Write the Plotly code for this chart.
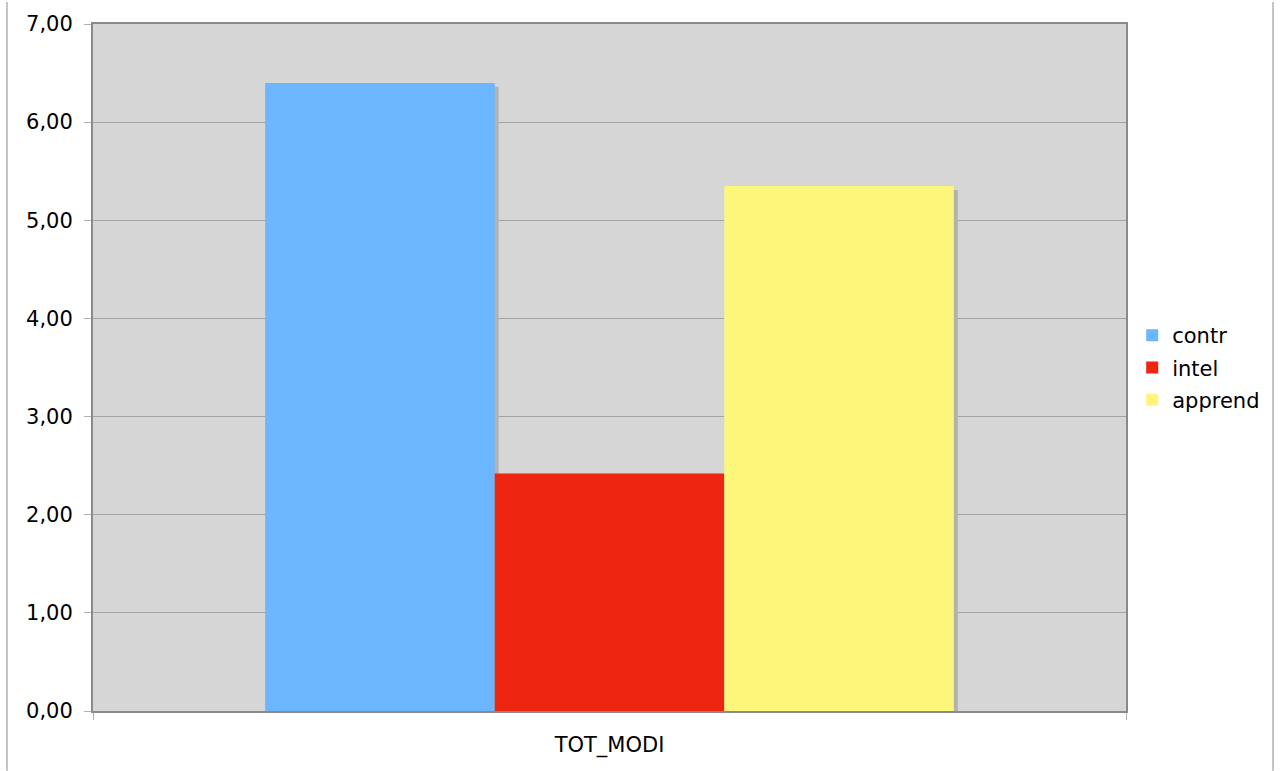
import plotly.graph_objects as go

# Data
category = ["TOT_MODI"]
series_names = ["contr", "intel", "apprend"]
series_values = [6.40, 2.42, 5.35]
series_colors = ["#6bb6ff", "#ee2511", "#fcf77b"]

# Layout geometry (pixels)
W, H = 1284, 771
M_L, M_R, M_T, M_B = 93, 158, 22, 60
plot_w = W - M_L - M_R
plot_h = H - M_T - M_B
Y_MAX = 7.0

group_frac = 2 / 3                     # share of the category slot taken by bars
bar_w = group_frac / len(series_names)  # width of each bar in category units
shadow_px = 4
shadow_dx = shadow_px / plot_w          # in category units (range spans 1.0)
shadow_dy = shadow_px * Y_MAX / plot_h  # in value units

fig = go.Figure()

# drop shadows, drawn first so the bars sit on top
for i, (name, val) in enumerate(zip(series_names, series_values)):
    off = -group_frac / 2 + i * bar_w
    fig.add_trace(go.Bar(
        x=category, y=[val], base=[-shadow_dy],
        width=bar_w, offset=off + shadow_dx,
        marker=dict(color="#b2b2b2", line=dict(width=0)),
        showlegend=False, hoverinfo="skip",
    ))

for i, (name, val, col) in enumerate(zip(series_names, series_values, series_colors)):
    off = -group_frac / 2 + i * bar_w
    fig.add_trace(go.Bar(
        x=category, y=[val], name=name,
        width=bar_w, offset=off,
        marker=dict(color=col, line=dict(width=0)),
        legendgroup=name,
    ))

font = dict(family="DejaVu Sans, Verdana, sans-serif", size=21, color="#000000")

fig.update_layout(
    width=W, height=H,
    margin=dict(l=M_L, r=M_R, t=M_T, b=M_B, pad=0),
    barmode="overlay",
    paper_bgcolor="#ffffff",
    plot_bgcolor="#d6d6d6",
    separators=",.",
    font=font,
    legend=dict(
        x=1.006, y=0.5, xanchor="left", yanchor="middle",
        font=font, tracegroupgap=2, traceorder="grouped",
        itemwidth=30, bgcolor="rgba(0,0,0,0)",
    ),
    xaxis=dict(
        type="category", range=[-0.5, 0.5],
        showline=True, linecolor="#8a8a8a", linewidth=2, mirror=True,
        ticks="outside", tickson="boundaries", ticklen=7, tickcolor="#b0b0b0",
        showgrid=False, zeroline=False, ticklabelstandoff=14,
    ),
    yaxis=dict(
        range=[0, Y_MAX], dtick=1, tickformat=".2f",
        showline=True, linecolor="#8a8a8a", linewidth=2, mirror=True,
        ticks="outside", ticklen=7, tickcolor="#b0b0b0",
        showgrid=True, gridcolor="#a3a3a3", gridwidth=1,
        zeroline=False, ticklabelstandoff=7,
    ),
    shapes=[
        dict(type="line", xref="paper", yref="paper",
             x0=(7 - M_L) / plot_w, x1=(7 - M_L) / plot_w,
             y0=-M_B / plot_h, y1=(plot_h + M_T) / plot_h,
             line=dict(color="#c4c4c4", width=2), layer="below"),
        dict(type="line", xref="paper", yref="paper",
             x0=(1273 - M_L) / plot_w, x1=(1273 - M_L) / plot_w,
             y0=-M_B / plot_h, y1=(plot_h + M_T) / plot_h,
             line=dict(color="#c4c4c4", width=2), layer="below"),
    ],
)

fig.write_html("out.html")
